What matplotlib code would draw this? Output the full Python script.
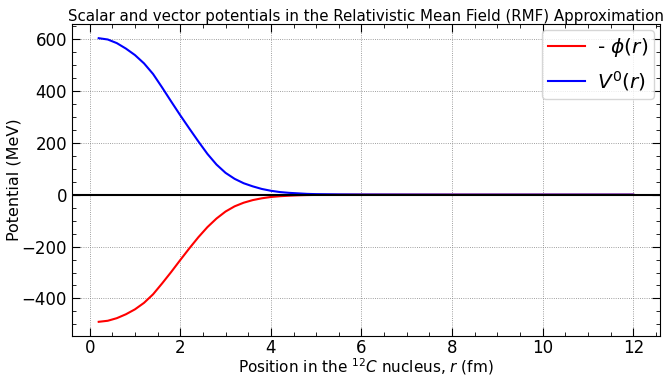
import matplotlib
matplotlib.use("Agg")
import matplotlib.pyplot as plt
from matplotlib.ticker import AutoMinorLocator

r = [0.2, 0.4, 0.6, 0.8, 1.0, 1.2, 1.4, 1.6, 1.8, 2.0, 2.2, 2.4, 2.6, 2.8, 3.0,
     3.2, 3.4, 3.6, 3.8, 4.0, 4.2, 4.4, 4.6, 4.8, 5.0, 5.5, 6.0, 7.0, 8.0, 9.0,
     10.0, 11.0, 12.0]
phi_neg = [-490, -486, -476, -461, -442, -417, -384, -342, -298, -252, -207, -164,
           -125, -92, -65, -45, -31, -21, -14, -9, -6, -4, -2.5, -1.5, -1, -0.4,
           -0.1, 0, 0, 0, 0, 0, 0]
v0 = [603, 598, 584, 563, 538, 506, 465, 413, 359, 306, 255, 205, 157, 116, 84,
      61, 44, 32, 22, 15, 10, 7, 5, 3, 2, 1, 0.5, 0.2, 0, 0, 0, 0, 0]

fig = plt.figure(figsize=(6.64, 3.77), dpi=100)
ax = fig.add_axes([0.1084, 0.1088, 0.8856, 0.8275])
ax.plot(r, phi_neg, color="red", lw=1.5, label=r"- $\phi(r)$")
ax.plot(r, v0, color="blue", lw=1.5, label=r"$V^0(r)$")
ax.axhline(0, color="black", lw=1.5)
ax.grid(True, which="major", color="gray", ls=":", lw=0.6)
ax.xaxis.set_minor_locator(AutoMinorLocator())
ax.yaxis.set_minor_locator(AutoMinorLocator())
ax.tick_params(which="both", direction="in", top=True, right=True, labelsize=12)
ax.tick_params(which="major", length=6)
ax.tick_params(which="minor", length=3)
ax.tick_params(axis="x", which="major", pad=2.5)
ax.set_title("Scalar and vector potentials in the Relativistic Mean Field (RMF) Approximation",
             fontsize=10.8, pad=2)
ax.set_xlabel(r"Position in the $^{12}C$ nucleus, $r$ (fm)", fontsize=11, labelpad=-0.5)
ax.set_ylabel("Potential (MeV)", fontsize=11.5, labelpad=0)
ax.legend(loc="upper right", fontsize=14.5, borderaxespad=0.3, handlelength=1.8,
          borderpad=0.3, handletextpad=0.6)
fig.savefig("out.png", dpi=100)
